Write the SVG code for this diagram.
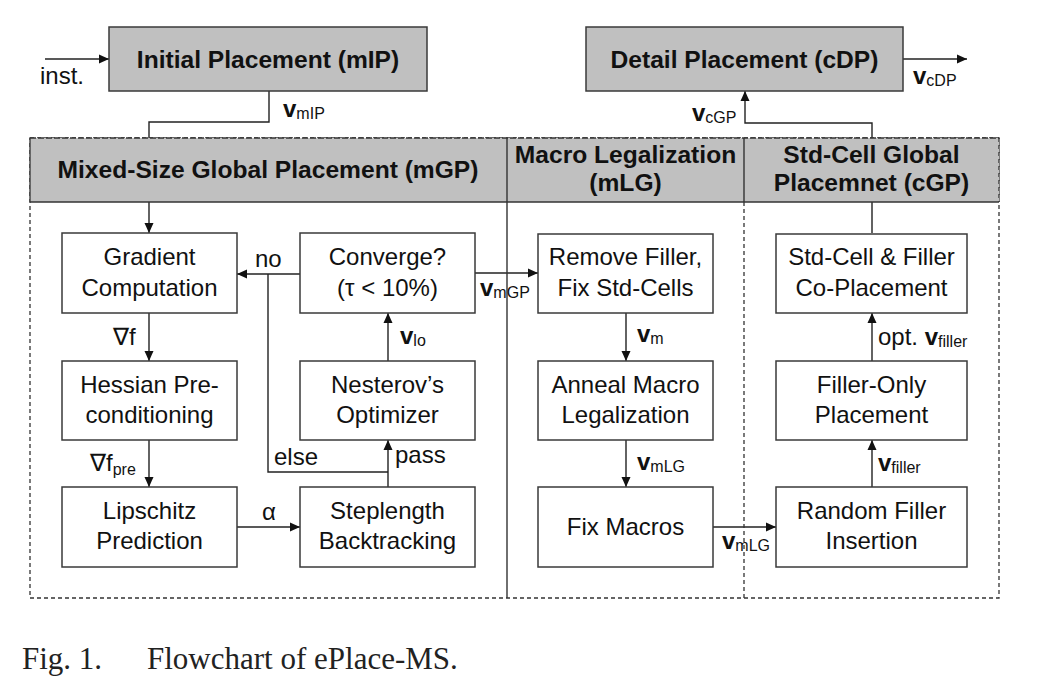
<svg xmlns="http://www.w3.org/2000/svg" width="1037" height="681" viewBox="0 0 1037 681">
<defs>
<marker id="ah" viewBox="0 0 10 10" refX="10" refY="5" markerWidth="10" markerHeight="10" markerUnits="userSpaceOnUse" orient="auto">
<path d="M0,0.5 L10,5 L0,9.5 Z" fill="#111"/>
</marker>
<style>
.t{font-family:"Liberation Sans",Arial,sans-serif;font-size:24px;fill:#111;text-anchor:middle}
.b{font-weight:bold;font-size:24.6px}
.l{font-family:"Liberation Sans",Arial,sans-serif;font-size:24px;fill:#111}
.v{font-weight:bold}
.s{font-size:16px;font-weight:normal}
.box{fill:#fff;stroke:#3a3a3a;stroke-width:1.5}
.gbox{fill:#c0c0c0;stroke:#3a3a3a;stroke-width:1.5}
.c{fill:none;stroke:#222;stroke-width:1.4}
.ca{fill:none;stroke:#222;stroke-width:1.4;marker-end:url(#ah)}
.dash{fill:none;stroke:#333;stroke-width:1.3;stroke-dasharray:4,3}
.cap{font-family:"Liberation Serif","Times New Roman",serif;font-size:31px;fill:#222}
</style>
</defs>
<rect width="1037" height="681" fill="#fff"/>

<g id="connectors">
<line class="ca" x1="45" y1="59" x2="109" y2="59"/>
<polyline class="c" points="269,91 269,122 149,122 149,138"/>
<line class="ca" x1="903" y1="59" x2="967" y2="59"/>
<polyline class="ca" points="872,233 872,123 745,123 745,91"/>
<line class="ca" x1="149" y1="202" x2="149" y2="233"/>
<line class="ca" x1="149" y1="313" x2="149" y2="361"/>
<line class="ca" x1="149" y1="440" x2="149" y2="487"/>
<line class="ca" x1="237" y1="527" x2="300" y2="527"/>
<line class="ca" x1="388" y1="487" x2="388" y2="440"/>
<polyline class="c" points="388,472 268,472 268,274"/>
<line class="ca" x1="300" y1="274" x2="237" y2="274"/>
<line class="ca" x1="388" y1="361" x2="388" y2="313"/>
<line class="ca" x1="475" y1="273" x2="538" y2="273"/>
<line class="ca" x1="626" y1="313" x2="626" y2="361"/>
<line class="ca" x1="626" y1="440" x2="626" y2="487"/>
<line class="ca" x1="713" y1="527" x2="776" y2="527"/>
<line class="ca" x1="872" y1="487" x2="872" y2="440"/>
<line class="ca" x1="872" y1="361" x2="872" y2="313"/>
</g>

<g id="frame">
<rect class="dash" x="30" y="138" width="969" height="460"/>
<rect x="30" y="138" width="969" height="64" fill="#c0c0c0"/>
<line x1="30" y1="202" x2="999" y2="202" stroke="#333" stroke-width="1.5"/>
<line x1="30" y1="138" x2="999" y2="138" stroke="#333" stroke-width="1.3" stroke-dasharray="6,2"/>
<line x1="30" y1="138" x2="30" y2="202" stroke="#333" stroke-width="1.3"/>
<line x1="999" y1="138" x2="999" y2="202" stroke="#333" stroke-width="1.3" stroke-dasharray="4,3"/>
<line x1="507" y1="138" x2="507" y2="598" stroke="#333" stroke-width="1.4"/>
<line x1="744" y1="138" x2="744" y2="202" stroke="#333" stroke-width="1.4"/>
<line class="dash" x1="744" y1="202" x2="744" y2="598"/>
</g>

<g id="hdr-mgp"><text class="t b" x="268" y="178">Mixed-Size Global Placement (mGP)</text></g>
<g id="hdr-mlg"><text class="t b" x="625.5" y="163">Macro Legalization</text><text class="t b" x="625.5" y="191">(mLG)</text></g>
<g id="hdr-cgp"><text class="t b" x="871.5" y="163">Std-Cell Global</text><text class="t b" x="871.5" y="191">Placemnet (cGP)</text></g>

<g id="mip"><rect class="gbox" x="109" y="27" width="318" height="64"/><text class="t b" x="268" y="67.5">Initial Placement (mIP)</text></g>
<g id="cdp"><rect class="gbox" x="586" y="27" width="317" height="64"/><text class="t b" x="744.5" y="67.5">Detail Placement (cDP)</text></g>

<g id="gradient"><rect class="box" x="62" y="233" width="175" height="80"/><text class="t" x="149.5" y="265">Gradient</text><text class="t" x="149.5" y="296">Computation</text></g>
<g id="converge"><rect class="box" x="300" y="233" width="175" height="80"/><text class="t" x="387.5" y="265">Converge?</text><text class="t" x="387.5" y="296">(τ &lt; 10%)</text></g>
<g id="hessian"><rect class="box" x="62" y="361" width="175" height="79"/><text class="t" x="149.5" y="393">Hessian Pre-</text><text class="t" x="149.5" y="423">conditioning</text></g>
<g id="nesterov"><rect class="box" x="300" y="361" width="175" height="79"/><text class="t" x="387.5" y="393">Nesterov’s</text><text class="t" x="387.5" y="423">Optimizer</text></g>
<g id="lipschitz"><rect class="box" x="62" y="487" width="175" height="80"/><text class="t" x="149.5" y="519">Lipschitz</text><text class="t" x="149.5" y="549">Prediction</text></g>
<g id="steplength"><rect class="box" x="300" y="487" width="175" height="80"/><text class="t" x="387.5" y="519">Steplength</text><text class="t" x="387.5" y="549">Backtracking</text></g>

<g id="remove"><rect class="box" x="538" y="234" width="175" height="79"/><text class="t" x="625.5" y="265">Remove Filler,</text><text class="t" x="625.5" y="296">Fix Std-Cells</text></g>
<g id="anneal"><rect class="box" x="538" y="361" width="175" height="79"/><text class="t" x="625.5" y="393">Anneal Macro</text><text class="t" x="625.5" y="423">Legalization</text></g>
<g id="fixmacros"><rect class="box" x="538" y="487" width="175" height="80"/><text class="t" x="625.5" y="535">Fix Macros</text></g>

<g id="coplace"><rect class="box" x="776" y="234" width="191" height="79"/><text class="t" x="871.5" y="265">Std-Cell &amp; Filler</text><text class="t" x="871.5" y="296">Co-Placement</text></g>
<g id="filleronly"><rect class="box" x="776" y="361" width="191" height="79"/><text class="t" x="871.5" y="393">Filler-Only</text><text class="t" x="871.5" y="423">Placement</text></g>
<g id="random"><rect class="box" x="776" y="487" width="191" height="80"/><text class="t" x="871.5" y="519">Random Filler</text><text class="t" x="871.5" y="549">Insertion</text></g>

<g id="labels">
<text class="l" x="40" y="84">inst.</text>
<text class="l" x="283" y="117"><tspan class="v">v</tspan><tspan class="s" dy="2">mIP</tspan></text>
<text class="l" x="913" y="84"><tspan class="v">v</tspan><tspan class="s" dy="2">cDP</tspan></text>
<text class="l" x="692" y="121"><tspan class="v">v</tspan><tspan class="s" dy="2">cGP</tspan></text>
<text class="l" x="255" y="267">no</text>
<text class="l" x="113" y="345">∇f</text>
<text class="l" x="400" y="344"><tspan class="v">v</tspan><tspan class="s" dy="2">lo</tspan></text>
<text class="l" x="90" y="471">∇f<tspan class="s" dy="4">pre</tspan></text>
<text class="l" x="274" y="465">else</text>
<text class="l" x="395" y="463">pass</text>
<text class="l" x="262" y="520">α</text>
<text class="l" x="480" y="296"><tspan class="v">v</tspan><tspan class="s" dy="2">mGP</tspan></text>
<text class="l" x="637" y="342"><tspan class="v">v</tspan><tspan class="s" dy="2">m</tspan></text>
<text class="l" x="637" y="470"><tspan class="v">v</tspan><tspan class="s" dy="2">mLG</tspan></text>
<text class="l" x="722" y="549"><tspan class="v">v</tspan><tspan class="s" dy="2">mLG</tspan></text>
<text class="l" x="878" y="345">opt. <tspan class="v">v</tspan><tspan class="s" dy="2">filler</tspan></text>
<text class="l" x="878" y="471"><tspan class="v">v</tspan><tspan class="s" dy="2">filler</tspan></text>
</g>

<g id="caption">
<text class="cap" x="22" y="669">Fig. 1.</text>
<text class="cap" x="147" y="669">Flowchart of ePlace-MS.</text>
</g>
</svg>
